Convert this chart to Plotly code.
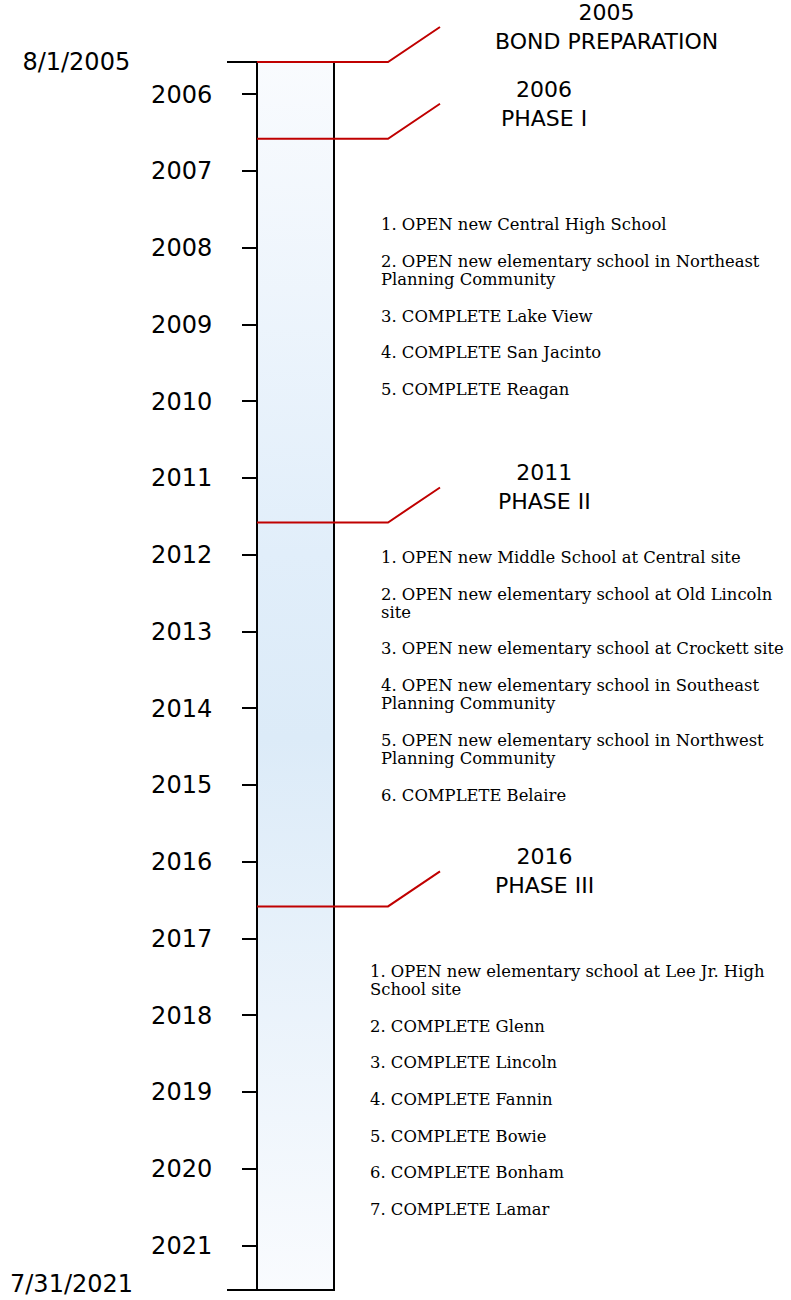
import pandas as pd
import plotly.graph_objects as go

# ---------------- data ----------------
start_date = "2005-08-01"
end_date = "2021-07-31"
start_label = "8/1/2005"
end_label = "7/31/2021"
tick_years = list(range(2006, 2022))

phase_dates = ["2005-08-01", "2006-08-01", "2011-08-01", "2016-08-01"]
phase_years = ["2005", "2006", "2011", "2016"]
phase_names = ["BOND PREPARATION", "PHASE I", "PHASE II", "PHASE III"]

phase1_items = [
    ["1. OPEN new Central High School"],
    ["2. OPEN new elementary school in Northeast", "Planning Community"],
    ["3. COMPLETE Lake View"],
    ["4. COMPLETE San Jacinto"],
    ["5. COMPLETE Reagan"],
]
phase2_items = [
    ["1. OPEN new Middle School at Central site"],
    ["2. OPEN new elementary school at Old Lincoln", "site"],
    ["3. OPEN new elementary school at Crockett site"],
    ["4. OPEN new elementary school in Southeast", "Planning Community"],
    ["5. OPEN new elementary school in Northwest", "Planning Community"],
    ["6. COMPLETE Belaire"],
]
phase3_items = [
    ["1. OPEN new elementary school at Lee Jr. High", "School site"],
    ["2. COMPLETE Glenn"],
    ["3. COMPLETE Lincoln"],
    ["4. COMPLETE Fannin"],
    ["5. COMPLETE Bowie"],
    ["6. COMPLETE Bonham"],
    ["7. COMPLETE Lamar"],
]
phase_items = [[], phase1_items, phase2_items, phase3_items]

# ---------------- layout constants (pixels) ----------------
W, H = 791, 1300
TOP_PX, BOT_PX = 62, 1290
BAR_L, BAR_R = 257, 334
ELBOW_X, DIAG_X, DIAG_RISE = 388, 440, 35
LABEL_CX = [606, 544, 544, 544]
LABEL_SHIFT = 35                   # px above phase line to centre of 2-line label
LIST_X = [None, 379, 379, 368]
LIST_OFFSET = [None, 86, 35, 65]   # px below phase line to first list line
ITEM_GAP, WRAP_GAP = 36.6, 18.3
END_LABEL_X, END_LABEL_SHIFT = 135, 6

RED = "#c00000"
SANS = "DejaVu Sans, Arial, sans-serif"
SERIF = "DejaVu Serif, Liberation Serif, serif"
TICK_SIZE = 24
LABEL_SIZE = 22
LIST_SIZE = 16.4

t0, t1 = pd.Timestamp(start_date), pd.Timestamp(end_date)
span_days = (t1 - t0).days
px_per_day = (BOT_PX - TOP_PX) / span_days
# plot area spans the whole page; extend range beyond the timeline
y_top = t0 - pd.Timedelta(days=TOP_PX / px_per_day)
y_bot = t1 + pd.Timedelta(days=(H - BOT_PX) / px_per_day)

fig = go.Figure()

# timeline bar with vertical gradient
fig.add_trace(go.Scatter(
    x=[BAR_L, BAR_R, BAR_R, BAR_L, BAR_L],
    y=[start_date, start_date, end_date, end_date, start_date],
    mode="lines", fill="toself",
    line=dict(color="black", width=2),
    fillgradient=dict(type="vertical",
                      colorscale=[[0, "#f9fbfe"], [0.45, "#dcebf8"], [0.6, "#e1eefa"], [1, "#f9fbfe"]]),
    hoverinfo="skip", showlegend=False,
))

# bottom extension line
fig.add_trace(go.Scatter(
    x=[BAR_L - 30, BAR_R], y=[end_date, end_date], mode="lines",
    line=dict(color="black", width=2), hoverinfo="skip", showlegend=False,
))

annotations = []
for i, d in enumerate(phase_dates):
    td = pd.Timestamp(d)
    top = td - pd.Timedelta(days=DIAG_RISE / px_per_day)
    fig.add_trace(go.Scatter(
        x=[BAR_L, ELBOW_X, DIAG_X], y=[td, td, top], mode="lines",
        line=dict(color=RED, width=2), hoverinfo="skip", showlegend=False,
    ))
    annotations.append(dict(x=LABEL_CX[i], y=d, yshift=LABEL_SHIFT,
                            text=f"{phase_years[i]}<br>{phase_names[i]}",
                            showarrow=False, xanchor="center", yanchor="middle", align="center",
                            font=dict(family=SANS, size=LABEL_SIZE, color="black")))
    off = LIST_OFFSET[i]
    for item in phase_items[i]:
        for j, line in enumerate(item):
            annotations.append(dict(x=LIST_X[i], y=d, yshift=-off, text=line,
                                    showarrow=False, xanchor="left", yanchor="middle",
                                    font=dict(family=SERIF, size=LIST_SIZE, color="black")))
            off += WRAP_GAP if j < len(item) - 1 else ITEM_GAP

# end-of-timeline label (kept just inside the page bottom)
annotations.append(dict(x=END_LABEL_X, y=end_date, yshift=END_LABEL_SHIFT, text=end_label,
                        showarrow=False, xanchor="right", yanchor="middle",
                        font=dict(family=SANS, size=TICK_SIZE, color="black")))

fig.update_layout(
    width=W, height=H,
    margin=dict(l=0, r=0, t=0, b=0, autoexpand=False),
    paper_bgcolor="white", plot_bgcolor="white",
    showlegend=False,
    xaxis=dict(range=[0, W], domain=[0, 1], visible=False, fixedrange=True),
    yaxis=dict(
        type="date", range=[y_bot, y_top], domain=[0, 1],
        anchor="free", position=BAR_L / W, automargin=False,
        showgrid=False, zeroline=False, showline=False,
        ticks="outside", ticklen=15, tickwidth=2, tickcolor="black",
        tickvals=[f"{y}-01-01" for y in tick_years],
        ticktext=[str(y) for y in tick_years],
        ticklabelstandoff=25, ticklabeloverflow="allow",
        tickfont=dict(family=SANS, size=TICK_SIZE, color="black"),
    ),
    yaxis2=dict(
        type="date", range=[y_bot, y_top], domain=[0, 1],
        overlaying="y", anchor="free", position=BAR_L / W, side="left",
        automargin=False,
        showgrid=False, zeroline=False, showline=False,
        ticks="outside", ticklen=30, tickwidth=2, tickcolor="black",
        tickvals=[start_date, end_date], ticktext=[start_label, ""],
        ticklabelstandoff=92, ticklabeloverflow="allow",
        tickfont=dict(family=SANS, size=TICK_SIZE, color="black"),
    ),
    annotations=annotations,
)

# dummy trace to activate yaxis2
fig.add_trace(go.Scatter(x=[None], y=[None], yaxis="y2", showlegend=False, hoverinfo="skip"))

fig.write_html("out.html", config={"displayModeBar": False},
               post_script="document.body.style.margin='0';")
